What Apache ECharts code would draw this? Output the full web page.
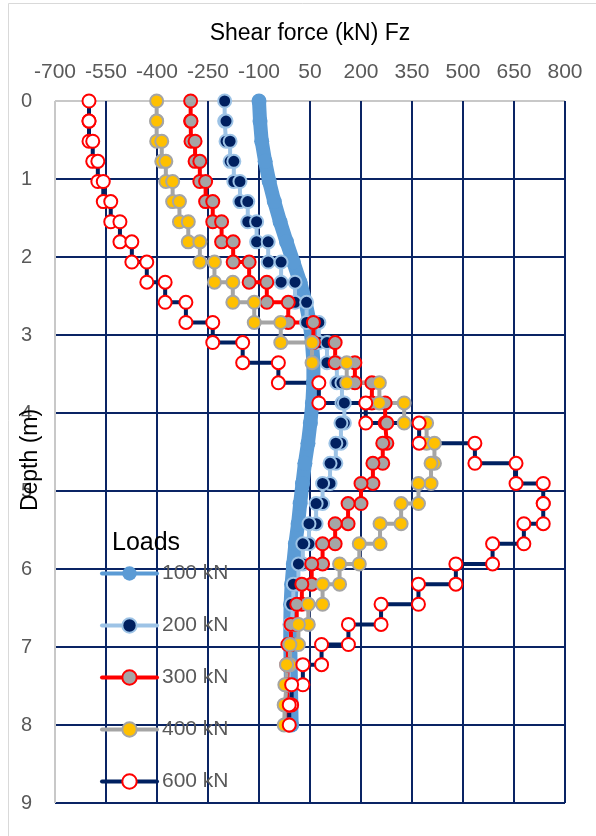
<!DOCTYPE html>
<html>
<head>
<meta charset="utf-8">
<script src="https://cdn.jsdelivr.net/npm/echarts@6/dist/echarts.min.js"></script>
<style>html,body{margin:0;padding:0;background:#fff}#chart{width:596px;height:836px}</style>
</head>
<body>
<div id="chart"></div>
<script>
// ---- data ----
const xTicks = [-700, -550, -400, -250, -100, 50, 200, 350, 500, 650, 800];
const yTicks = [0, 1, 2, 3, 4, 5, 6, 7, 8, 9];
const loadNames = ['100 kN', '200 kN', '300 kN', '400 kN', '600 kN'];
// pile node depths (m)
const depthNodes = [0, 0.258, 0.516, 0.774, 1.032, 1.290, 1.548, 1.806, 2.065, 2.323, 2.581,
  2.839, 3.097, 3.355, 3.613, 3.871, 4.129, 4.387, 4.645, 4.903, 5.161, 5.419, 5.677,
  5.935, 6.194, 6.452, 6.710, 6.968, 7.226, 7.484, 7.742, 8.000];
// 100 kN: shear at each node (kN)
const shear100 = [-100, -97, -92, -82, -70, -55, -38, -19, 1, 21, 37, 49, 56, 60, 60, 57,
  51, 44, 35, 28, 21, 15, 7, 1, -4, -7, -8, -8, -7, -6, -5, -4];
// other loads: shear in each element between consecutive nodes (kN)
const shear200 = [-201, -197, -185, -174, -156, -133, -107, -73, -35, 6, 40, 76, 100, 129, 144,
  151, 141, 126, 109, 87, 68, 47, 29, 16, 1, -4, -9, -12, -13, -13, -12];
const shear300 = [-301, -300, -288, -274, -257, -236, -210, -176, -129, -77, -14, 60, 124, 182,
  232, 271, 276, 264, 235, 200, 162, 124, 87, 55, 26, 11, -6, -15, -18, -15, -12];
const shear400 = [-401, -401, -386, -374, -354, -334, -308, -274, -231, -177, -114, -36, 56, 158,
  254, 327, 393, 416, 406, 369, 318, 256, 195, 137, 87, 45, 16, -9, -19, -24, -26];
const shear600 = [-600, -600, -589, -574, -558, -536, -509, -474, -430, -376, -315, -236, -148,
  -43, 76, 214, 371, 535, 656, 736, 736, 679, 587, 479, 369, 259, 163, 84, 29, -4, -11];

// ---- build ----
function nodePoints(vals) { return vals.map((v, i) => [v, depthNodes[i]]); }
function stepPoints(vals) {
  const pts = [];
  vals.forEach((v, j) => { pts.push([v, depthNodes[j]]); pts.push([v, depthNodes[j + 1]]); });
  return pts;
}
const FONT = 'Liberation Sans';
const NAVY = '#0A2464';
const GRID_GREY = '#C8C8C8';

function lineSeries(name, data, lineColor, lineW, fill, border, size, bw) {
  return {
    name, type: 'line', data, symbol: 'circle', symbolSize: size, showSymbol: true,
    lineStyle: { color: lineColor, width: lineW, cap: 'round', join: 'round' },
    itemStyle: { color: fill, borderColor: border, borderWidth: bw },
    emphasis: { disabled: true }, z: 3
  };
}

const chart = echarts.init(document.getElementById('chart'), null, { renderer: 'canvas' });
chart.setOption({
  animation: false,
  backgroundColor: '#fff',
  textStyle: { fontFamily: FONT },
  title: {
    text: 'Loads', left: 107, top: 526,
    textStyle: { fontSize: 25, fontWeight: 'normal', color: '#000', fontFamily: FONT }
  },
  grid: { left: 55, top: 101, width: 510, height: 702, containLabel: false },
  xAxis: {
    type: 'value', position: 'top',
    min: xTicks[0], max: xTicks[xTicks.length - 1], interval: xTicks[1] - xTicks[0],
    name: 'Shear force (kN) Fz', nameLocation: 'middle', nameGap: 56,
    nameTextStyle: { fontSize: 23, color: '#000', fontFamily: FONT },
    axisLine: { show: false }, axisTick: { show: false },
    axisLabel: { fontSize: 21, color: '#595959', margin: 18, fontFamily: FONT },
    splitLine: { show: true, lineStyle: { width: 2, color: [GRID_GREY].concat(xTicks.slice(1).map(() => NAVY)) } }
  },
  yAxis: {
    type: 'value', inverse: true,
    min: yTicks[0], max: yTicks[yTicks.length - 1], interval: yTicks[1] - yTicks[0],
    axisLine: { show: false }, axisTick: { show: false },
    axisLabel: { fontSize: 20, color: '#595959', margin: 23, fontFamily: FONT },
    splitLine: { show: true, lineStyle: { width: 2, color: [GRID_GREY].concat(yTicks.slice(1).map(() => NAVY)) } }
  },
  legend: {
    orient: 'vertical', left: 95, top: 558,
    itemWidth: 55, itemHeight: 18, itemGap: 31,
    lineStyle: { width: 4 },
    textStyle: { fontSize: 21, color: '#595959', fontFamily: FONT },
    data: loadNames.map(n => ({ name: n }))
  },
  graphic: [
    { type: 'rect', shape: { x: 8.5, y: 3.5, width: 700, height: 900 }, style: { fill: null, stroke: '#D9D9D9', lineWidth: 1 }, silent: true },
    { type: 'text', x: 31, y: 460, rotation: Math.PI / 2,
      style: { text: 'Depth (m)', font: '23px "Liberation Sans"', fill: '#000', align: 'center', verticalAlign: 'middle' }, z: 10 }
  ],
  series: [
    lineSeries(loadNames[0], nodePoints(shear100), '#5B9BD5', 14, '#5B9BD5', '#5B9BD5', 15, 0),
    lineSeries(loadNames[1], stepPoints(shear200), '#9DC3E6', 4, '#002060', '#9DC3E6', 13, 2),
    lineSeries(loadNames[2], stepPoints(shear300), '#FF0000', 4, '#A5A5A5', '#FF0000', 13, 2),
    lineSeries(loadNames[3], stepPoints(shear400), '#A5A5A5', 4, '#FFC000', '#A5A5A5', 13, 2),
    lineSeries(loadNames[4], stepPoints(shear600), '#002060', 4, '#FFFFFF', '#FF0000', 13, 2)
  ]
});
</script>
</body>
</html>
